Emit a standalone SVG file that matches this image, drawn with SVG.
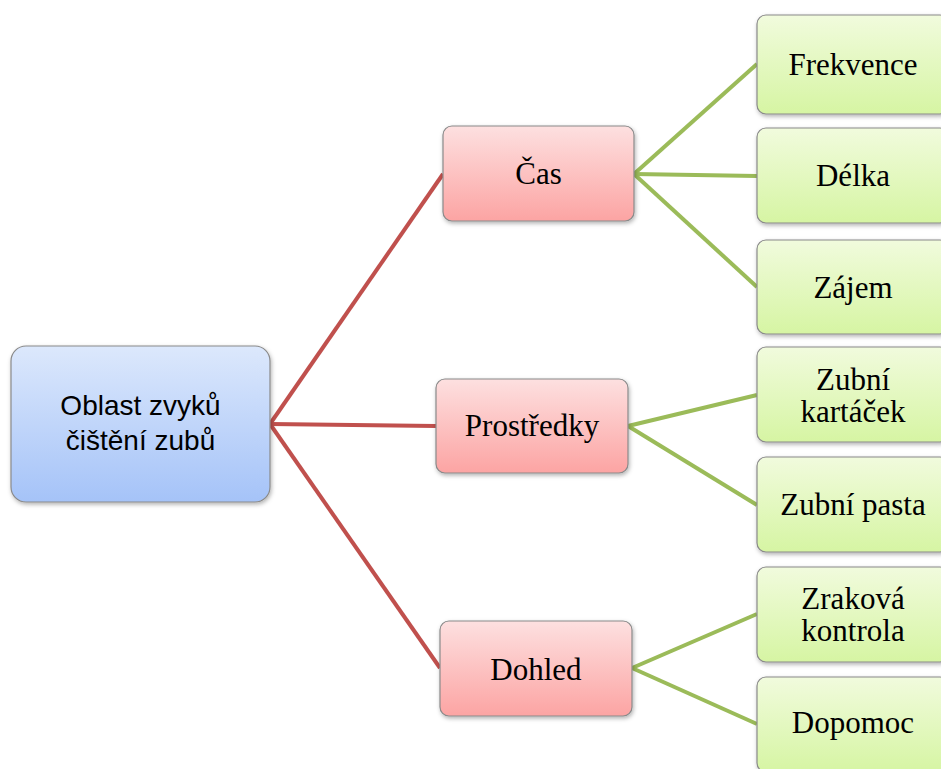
<svg xmlns="http://www.w3.org/2000/svg" width="941" height="769" viewBox="0 0 941 769">
<defs>
<linearGradient id="gBlue" x1="0" y1="0" x2="0" y2="1"><stop offset="0" stop-color="#dce8fc"/><stop offset="1" stop-color="#a5c3f8"/></linearGradient>
<linearGradient id="gRed" x1="0" y1="0" x2="0" y2="1"><stop offset="0" stop-color="#fde0e0"/><stop offset="1" stop-color="#fca4a3"/></linearGradient>
<linearGradient id="gGreen" x1="0" y1="0" x2="0" y2="1"><stop offset="0" stop-color="#f1fbdd"/><stop offset="1" stop-color="#d6f5a3"/></linearGradient>
<filter id="sh" x="-10%" y="-10%" width="125%" height="130%"><feDropShadow dx="1" dy="2" stdDeviation="2" flood-color="#000" flood-opacity="0.3"/></filter>
</defs>
<style>
.box{stroke:#8a8a8a;stroke-width:1.2;filter:url(#sh)}
.b{fill:url(#gBlue)} .r{fill:url(#gRed)} .g{fill:url(#gGreen)}
.sans{font-family:"Liberation Sans",Arial,sans-serif;font-size:28px;fill:#000;text-anchor:middle}
.serif{font-family:"Liberation Serif","Times New Roman",serif;font-size:31px;fill:#000;text-anchor:middle}
.rl{stroke:#c0504d;stroke-width:4;fill:none}
.gl{stroke:#9bbb59;stroke-width:4;fill:none}
</style>
<rect width="941" height="769" fill="#fff"/>
<g id="connectors">
<line class="rl" x1="270" y1="424" x2="443" y2="174"/>
<line class="rl" x1="270" y1="424" x2="436" y2="426"/>
<line class="rl" x1="270" y1="424" x2="440" y2="668"/>
<line class="gl" x1="634" y1="174" x2="757" y2="64"/>
<line class="gl" x1="634" y1="174" x2="757" y2="176"/>
<line class="gl" x1="634" y1="174" x2="757" y2="287"/>
<line class="gl" x1="628" y1="426" x2="757" y2="395"/>
<line class="gl" x1="628" y1="426" x2="757" y2="505"/>
<line class="gl" x1="632" y1="668" x2="757" y2="614"/>
<line class="gl" x1="632" y1="668" x2="757" y2="724"/>
</g>
<g id="root"><rect class="box b" x="11" y="346" width="259" height="156" rx="15"/><text class="sans" x="140.5" y="415">Oblast zvyků</text><text class="sans" x="140.5" y="450">čištění zubů</text></g>
<g id="cas"><rect class="box r" x="443" y="126" width="191" height="95" rx="9"/><text class="serif" x="538.5" y="184">Čas</text></g>
<g id="prostredky"><rect class="box r" x="436" y="379" width="192" height="94" rx="9"/><text class="serif" x="532" y="436">Prostředky</text></g>
<g id="dohled"><rect class="box r" x="440" y="621" width="192" height="95" rx="9"/><text class="serif" x="536" y="680">Dohled</text></g>
<g id="frekvence"><rect class="box g" x="757" y="15" width="192" height="99" rx="9"/><text class="serif" x="853" y="75">Frekvence</text></g>
<g id="delka"><rect class="box g" x="757" y="128" width="192" height="95" rx="9"/><text class="serif" x="853" y="186">Délka</text></g>
<g id="zajem"><rect class="box g" x="757" y="240" width="192" height="94" rx="9"/><text class="serif" x="853" y="298">Zájem</text></g>
<g id="kartacek"><rect class="box g" x="757" y="347" width="192" height="95" rx="9"/><text class="serif" x="853" y="390">Zubní</text><text class="serif" x="853" y="422">kartáček</text></g>
<g id="pasta"><rect class="box g" x="757" y="457" width="192" height="95" rx="9"/><text class="serif" x="853" y="515">Zubní pasta</text></g>
<g id="zrakova"><rect class="box g" x="757" y="567" width="192" height="95" rx="9"/><text class="serif" x="853" y="609">Zraková</text><text class="serif" x="853" y="641">kontrola</text></g>
<g id="dopomoc"><rect class="box g" x="757" y="677" width="192" height="95" rx="9"/><text class="serif" x="853" y="733">Dopomoc</text></g>
</svg>
